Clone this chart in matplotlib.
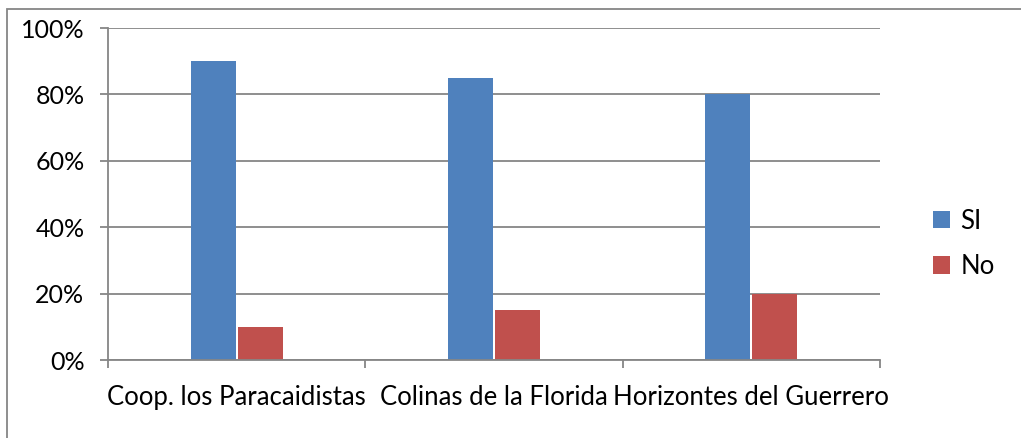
import matplotlib.pyplot as plt
import numpy as np

# data
categories = ['Coop. los Paracaidistas', 'Colinas de la Florida', 'Horizontes del Guerrero']
si_values = [90, 85, 80]
no_values = [10, 15, 20]

plt.rcParams['font.family'] = ['Lato', 'DejaVu Sans']

fig = plt.figure(figsize=(10.21, 4.38), dpi=100)
ax = fig.add_axes([108 / 1021, 1 - 360 / 438, (880 - 108) / 1021, (360 - 28) / 438])

x = np.arange(len(categories))
w = 0.175
ax.bar(x - w / 2 - 0.004, si_values, w, color='#4F81BD', label='SI')
ax.bar(x + w / 2 + 0.004, no_values, w, color='#C0504D', label='No')

ax.set_xlim(-0.5, 2.5)
ax.set_ylim(0, 100)
ax.set_yticks(range(0, 101, 20))
ax.set_yticklabels([f'{v}%' for v in range(0, 101, 20)])
ax.yaxis.grid(True, color='#868686', linewidth=1.3)
ax.set_axisbelow(True)

ax.set_xticks(x)
ax.set_xticklabels(categories)
ax.set_xticks([-0.5, 0.5, 1.5, 2.5], minor=True)
ax.tick_params(axis='x', which='major', length=0, pad=18, labelsize=18.5)
ax.tick_params(axis='x', which='minor', length=6, width=1.3, color='#868686')
ax.tick_params(axis='y', length=6, width=1.3, color='#868686', labelsize=18, pad=11)

for s in ['top', 'right']:
    ax.spines[s].set_visible(False)
for s in ['left', 'bottom']:
    ax.spines[s].set_color('#868686')
    ax.spines[s].set_linewidth(1.3)

ax.legend(loc='center left', bbox_to_anchor=(1.069, 0.35), frameon=False,
          fontsize=18.5, handlelength=0.65, handleheight=0.65, labelspacing=0.8,
          handletextpad=0.4, borderpad=0, borderaxespad=0)

# outer chart border
fig.add_artist(plt.Rectangle((7 / 1021, -0.01), 1.02, 1 - 9 / 438 + 0.01,
                             transform=fig.transFigure, fill=False,
                             edgecolor='#868686', linewidth=1.3))

fig.savefig('out.png', dpi=100)
